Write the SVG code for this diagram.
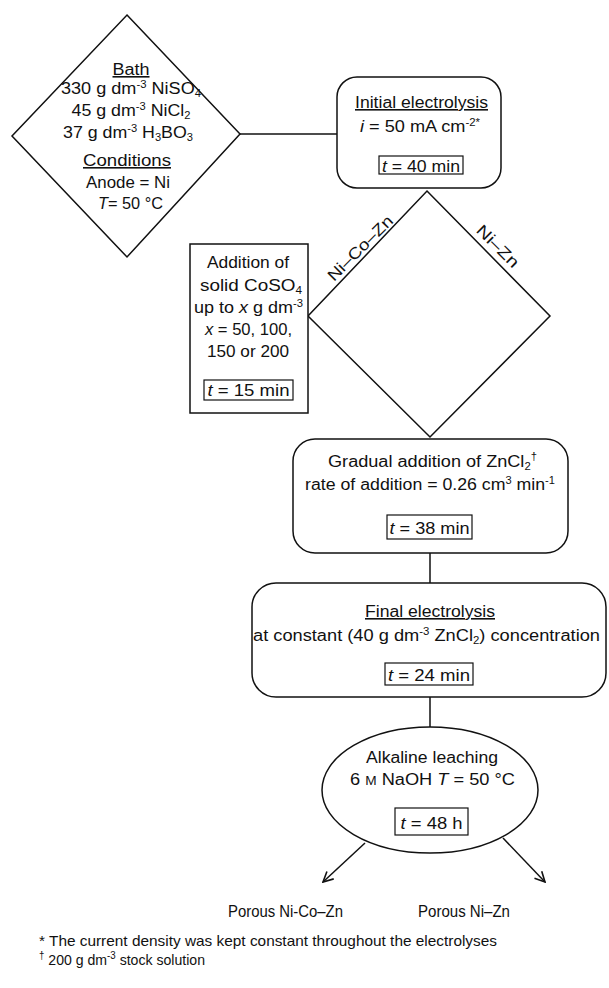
<svg xmlns="http://www.w3.org/2000/svg" width="609" height="988" viewBox="0 0 609 988">
<style>
text{font-family:"Liberation Sans",Arial,sans-serif;font-size:16px;fill:#111;}
.c{text-anchor:middle;}
.u{text-decoration:underline;}
.sm{font-size:14.5px;}
.shape{fill:#fff;stroke:#111;stroke-width:1.5;}
.tb{fill:#fff;stroke:#111;stroke-width:1.2;}
.ln{fill:none;stroke:#111;stroke-width:1.5;}
.it{font-style:italic;}
</style>
<defs>
<marker id="arr" viewBox="0 0 12 12" refX="11" refY="6" markerWidth="12" markerHeight="12" markerUnits="userSpaceOnUse" orient="auto">
<path d="M1,1 L11,6 L1,11" fill="none" stroke="#111" stroke-width="1.6"/>
</marker>
</defs>
<rect width="609" height="988" fill="#fff"/>

<g id="connectors">
<line class="ln" x1="240" y1="134" x2="337" y2="134"/>
<line class="ln" x1="430" y1="553" x2="430" y2="583"/>
<line class="ln" x1="430" y1="697" x2="430" y2="727"/>
<line class="ln" x1="365" y1="843" x2="323" y2="882" marker-end="url(#arr)"/>
<line class="ln" x1="503" y1="838" x2="545" y2="882" marker-end="url(#arr)"/>
</g>

<g id="bath">
<polygon class="shape" points="127,15 240,134 127,257 12,136"/>
<text class="c u" x="131" y="75" textLength="37" lengthAdjust="spacingAndGlyphs">Bath</text>
<text class="c" x="131" y="94" textLength="140" lengthAdjust="spacingAndGlyphs">330 g dm<tspan font-size="10" dy="-6">-3</tspan><tspan dy="6"> NiSO</tspan><tspan font-size="10" dy="3">4</tspan></text>
<text class="c" x="131" y="116" textLength="119" lengthAdjust="spacingAndGlyphs">45 g dm<tspan font-size="10" dy="-6">-3</tspan><tspan dy="6"> NiCl</tspan><tspan font-size="10" dy="3">2</tspan></text>
<text class="c" x="128" y="138" textLength="130" lengthAdjust="spacingAndGlyphs">37 g dm<tspan font-size="10" dy="-6">-3</tspan><tspan dy="6"> H</tspan><tspan font-size="10" dy="3">3</tspan><tspan dy="-3">BO</tspan><tspan font-size="10" dy="3">3</tspan></text>
<text class="c u" x="127" y="166" textLength="88" lengthAdjust="spacingAndGlyphs">Conditions</text>
<text class="c" x="128" y="188" textLength="84" lengthAdjust="spacingAndGlyphs">Anode = Ni</text>
<text class="c" x="130.5" y="209" textLength="65" lengthAdjust="spacingAndGlyphs"><tspan class="it">T</tspan>= 50 °C</text>
</g>

<g id="initial">
<rect class="shape" x="337" y="77" width="164" height="111" rx="20"/>
<text class="c u" x="421.5" y="108" textLength="133" lengthAdjust="spacingAndGlyphs">Initial electrolysis</text>
<text class="c" x="420" y="132" textLength="120" lengthAdjust="spacingAndGlyphs"><tspan class="it">i</tspan> = 50 mA cm<tspan font-size="10" dy="-6">-2*</tspan></text>
<rect class="tb" x="379" y="156" width="84" height="18"/>
<text class="c" x="421" y="172" textLength="78" lengthAdjust="spacingAndGlyphs"><tspan class="it">t</tspan> = 40 min</text>
</g>

<g id="branch">
<polygon class="shape" points="427,191 550,316 430,437 308,316"/>
<text class="c" font-size="15" transform="translate(364,252) rotate(-45)" textLength="85" lengthAdjust="spacingAndGlyphs">Ni–Co–Zn</text>
<text class="c" font-size="15" transform="translate(494,250) rotate(45)" textLength="53" lengthAdjust="spacingAndGlyphs">Ni–Zn</text>
</g>

<g id="addition">
<rect class="shape" x="190" y="244" width="118" height="169"/>
<text class="c" x="248" y="268" textLength="82" lengthAdjust="spacingAndGlyphs">Addition of</text>
<text class="c" x="251" y="291" textLength="102" lengthAdjust="spacingAndGlyphs">solid CoSO<tspan font-size="10" dy="3">4</tspan></text>
<text class="c" x="248.5" y="313" textLength="109" lengthAdjust="spacingAndGlyphs">up to <tspan class="it">x</tspan> g dm<tspan font-size="10" dy="-6">-3</tspan></text>
<text class="c" x="248.5" y="335" textLength="87" lengthAdjust="spacingAndGlyphs"><tspan class="it">x</tspan> = 50, 100,</text>
<text class="c" x="248" y="357" textLength="82" lengthAdjust="spacingAndGlyphs">150 or 200</text>
<rect class="tb" x="204" y="380" width="89" height="20"/>
<text class="c" x="248.5" y="396" textLength="82" lengthAdjust="spacingAndGlyphs"><tspan class="it">t</tspan> = 15 min</text>
</g>

<g id="gradual">
<rect class="shape" x="293" y="439" width="275" height="114" rx="22"/>
<text class="c" x="432.5" y="467" textLength="209" lengthAdjust="spacingAndGlyphs">Gradual addition of ZnCl<tspan font-size="10" dy="3">2</tspan><tspan font-size="10" dy="-10">†</tspan></text>
<text class="c" x="430" y="490" textLength="250" lengthAdjust="spacingAndGlyphs">rate of addition = 0.26 cm<tspan font-size="10" dy="-6">3</tspan><tspan dy="6"> min</tspan><tspan font-size="10" dy="-6">-1</tspan></text>
<rect class="tb" x="387" y="515" width="85" height="24"/>
<text class="c" x="429.5" y="534" textLength="80" lengthAdjust="spacingAndGlyphs"><tspan class="it">t</tspan> = 38 min</text>
</g>

<g id="final">
<rect class="shape" x="252" y="583" width="354" height="114" rx="24"/>
<text class="c u" x="430" y="617" textLength="130" lengthAdjust="spacingAndGlyphs">Final electrolysis</text>
<text class="c" x="426.5" y="641" textLength="347" lengthAdjust="spacingAndGlyphs">at constant (40 g dm<tspan font-size="10" dy="-6">-3</tspan><tspan dy="6"> ZnCl</tspan><tspan font-size="10" dy="3">2</tspan><tspan dy="-3">) concentration</tspan></text>
<rect class="tb" x="385" y="663" width="88" height="22"/>
<text class="c" x="429" y="681" textLength="82" lengthAdjust="spacingAndGlyphs"><tspan class="it">t</tspan> = 24 min</text>
</g>

<g id="leaching">
<ellipse class="shape" cx="430" cy="790" rx="108" ry="63"/>
<text class="c" x="432" y="763" textLength="132" lengthAdjust="spacingAndGlyphs">Alkaline leaching</text>
<text class="c" x="432.5" y="785" textLength="165" lengthAdjust="spacingAndGlyphs">6 <tspan font-size="12">M</tspan> NaOH   <tspan class="it">T</tspan> = 50 °C</text>
<rect class="tb" x="395" y="808" width="73" height="27"/>
<text class="c" x="431.5" y="829" textLength="62" lengthAdjust="spacingAndGlyphs"><tspan class="it">t</tspan> = 48 h</text>
</g>

<g id="product-nicozn">
<text class="c" font-size="15" x="285.5" y="917" textLength="115" lengthAdjust="spacingAndGlyphs">Porous Ni-Co–Zn</text>
</g>
<g id="product-nizn">
<text class="c" font-size="15" x="464" y="917" textLength="92" lengthAdjust="spacingAndGlyphs">Porous Ni–Zn</text>
</g>

<g id="footnotes">
<text class="sm" x="39" y="946" textLength="458" lengthAdjust="spacingAndGlyphs">* The current density was kept constant throughout the electrolyses</text>
<text class="sm" x="39" y="965" textLength="166" lengthAdjust="spacingAndGlyphs"><tspan font-size="10" dy="-6">†</tspan><tspan dy="6"> 200 g dm</tspan><tspan font-size="10" dy="-6">-3</tspan><tspan dy="6"> stock solution</tspan></text>
</g>
</svg>
